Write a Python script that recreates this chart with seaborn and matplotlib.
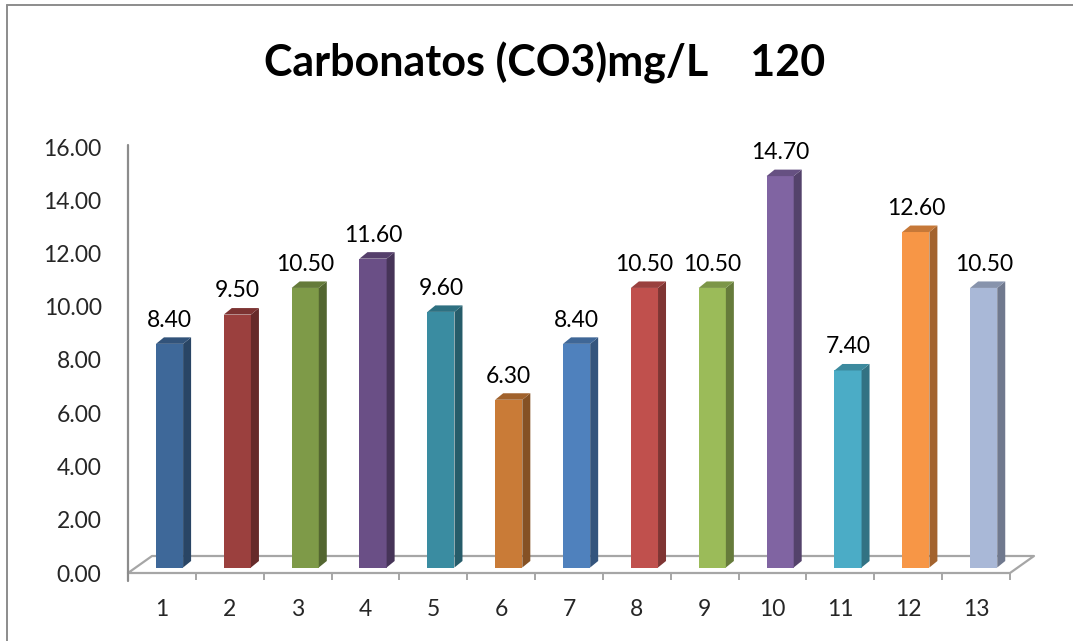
import matplotlib
matplotlib.use("Agg")
import matplotlib.pyplot as plt
from matplotlib.patches import Polygon
from matplotlib.lines import Line2D
import seaborn as sns

# Data
categories = [str(i) for i in range(1, 14)]
values = [8.40, 9.50, 10.50, 11.60, 9.60, 6.30, 8.40, 10.50, 10.50, 14.70, 7.40, 12.60, 10.50]
y_ticks = [0, 2, 4, 6, 8, 10, 12, 14, 16]
title = "Carbonatos (CO3)mg/L    120"

bar_colors = ["#3E6899", "#9B403E", "#7E9A48", "#6A4F86", "#3A8CA1", "#C97B37",
              "#4F81BD", "#C0504D", "#9BBB59", "#8064A2", "#4BACC6", "#F79646", "#A9B8D7"]

sns.set_style("white")
plt.rcParams["font.family"] = ["Lato", "DejaVu Sans"]

W, H, DPI = 1073, 641, 100
fig = plt.figure(figsize=(W / DPI, H / DPI), dpi=DPI)

# plot area in pixels
left_px, right_px, bottom_px, top_px = 128, 1010, 573, 147
ax = fig.add_axes([left_px / W, 1 - bottom_px / H,
                   (right_px - left_px) / W, (bottom_px - top_px) / H])

n = len(categories)
ax.set_xlim(-0.5, n - 0.5)
ax.set_ylim(0, 16)
ppx = (right_px - left_px) / n      # pixels per category
ppy = (bottom_px - top_px) / 16.0   # pixels per unit

sns.barplot(x=categories, y=values, hue=categories, palette=bar_colors,
            order=categories, hue_order=categories, legend=False,
            width=0.4, saturation=1, linewidth=0, ax=ax, zorder=3)
ax.set_xlim(-0.5, n - 0.5)
ax.set_ylim(0, 16)


def shade(hex_color, f):
    r, g, b = matplotlib.colors.to_rgb(hex_color)
    return (r * f, g * f, b * f)


# 3D look: bars stand slightly back on the floor
shift_x = 7.6 / ppx
lift_y = 5.5 / ppy
depth_x = 8.0 / ppx
depth_y = 6.5 / ppy

# floor parallelogram
floor_dx = 24.0 / ppx
floor_dy = 17.0 / ppy
floor_col = "#A6A6A6"
x0f, x1f = -0.5, n - 0.5
floor = [(x0f, 0), (x1f, 0), (x1f + floor_dx, floor_dy), (x0f + floor_dx, floor_dy), (x0f, 0)]
ax.add_line(Line2D([p[0] for p in floor], [p[1] for p in floor], color=floor_col,
                   lw=1.6, zorder=1, clip_on=False))

label_size = 16.5

patches = sorted(ax.patches, key=lambda p: p.get_x())
for p, val, col in zip(patches, values, bar_colors):
    p.set_x(p.get_x() + shift_x)
    p.set_y(lift_y)
    p.set_clip_on(False)
    bx0 = p.get_x()
    bx1 = bx0 + p.get_width()
    b0 = lift_y
    t = lift_y + val
    side = Polygon([(bx1, b0), (bx1, t), (bx1 + depth_x, t + depth_y), (bx1 + depth_x, b0 + depth_y)],
                   closed=True, facecolor=shade(col, 0.66), edgecolor="none", zorder=3, clip_on=False)
    top = Polygon([(bx0, t), (bx1, t), (bx1 + depth_x, t + depth_y), (bx0 + depth_x, t + depth_y)],
                  closed=True, facecolor=shade(col, 0.80), edgecolor="none", zorder=3, clip_on=False)
    ax.add_patch(side)
    ax.add_patch(top)
    ax.annotate(f"{val:.2f}", xy=((bx0 + bx1) / 2, t), xytext=(0, 17),
                textcoords="offset points", ha="center", va="center",
                fontsize=label_size, color="black", annotation_clip=False)

# axes styling
for s in ax.spines.values():
    s.set_visible(False)
ax.add_line(Line2D([-0.5, -0.5], [-8 / ppy, 16 + 2 / ppy], color="#8C8C8C", lw=1.6,
                   zorder=2, clip_on=False))

ax.set_yticks(y_ticks)
ax.set_yticklabels([f"{v:.2f}" for v in y_ticks], fontsize=label_size)
ax.tick_params(axis="y", length=0, pad=19)

ax.set_xticks(range(n))
ax.set_xticklabels(categories, fontsize=label_size)
ax.tick_params(axis="x", which="major", length=0, pad=19)
ax.set_xticks([i - 0.5 for i in range(n + 1)], minor=True)
ax.tick_params(axis="x", which="minor", length=5, width=1.4, color="#A6A6A6", direction="out")
ax.xaxis.set_ticks_position("bottom")
ax.set_xlabel("")
ax.set_ylabel("")
ax.grid(False)
ax.set_facecolor("none")

# title
fig.text(545 / W, 1 - 63 / H, title, ha="center", va="center",
         fontsize=31, fontweight="bold", color="black")

# chart frame
fc = "#8C8C8C"
fig.add_artist(Line2D([7 / W, 7 / W], [0, 1 - 5 / H], color=fc, lw=1.4, transform=fig.transFigure))
fig.add_artist(Line2D([7 / W, 1], [1 - 5 / H, 1 - 5 / H], color=fc, lw=1.4, transform=fig.transFigure))

fig.savefig("out.png", dpi=DPI, facecolor="white")
